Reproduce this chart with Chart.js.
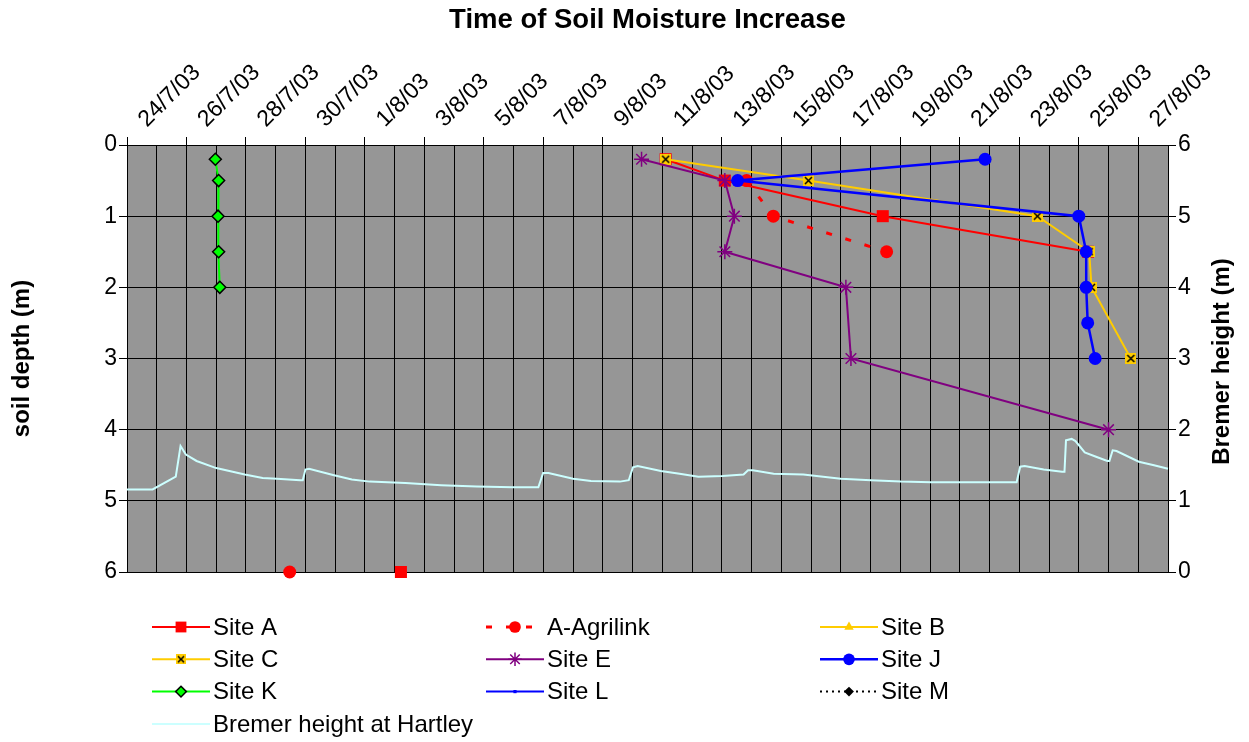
<!DOCTYPE html>
<html>
<head>
<meta charset="utf-8">
<script src="https://cdn.jsdelivr.net/npm/chart.js@4/dist/chart.umd.min.js"></script>
<style>
  body { margin: 0; background: #fff; }
  #wrap { width: 1249px; height: 742px; }
</style>
</head>
<body>
<div id="wrap"><canvas id="soilChart"></canvas></div>
<script>
// x values are days counted from 24/7/03, y values are depths in metres

const siteADays = [18.11, 20.10, 25.41, 32.31, null, 9.21];
const siteADepths = [0.2, 0.5, 1, 1.5, null, 6];

const agrilinkDays = [20.83, 21.73, 25.54, null, 5.47];
const agrilinkDepths = [0.5, 1, 1.5, null, 6];

const siteBDays = [];
const siteBDepths = [];

const siteCDays = [18.11, 22.91, 30.61, 32.35, 32.43, 33.75];
const siteCDepths = [0.2, 0.5, 1, 1.5, 2, 3];

const siteEDays = [17.30, 20.10, 20.42, 20.10, 24.17, 24.34, 33.0];
const siteEDepths = [0.2, 0.5, 1, 1.5, 2, 3, 4];

const siteJDays = [28.85, 20.53, 32.0, 32.25, 32.25, 32.30, 32.55];
const siteJDepths = [0.2, 0.5, 1, 1.5, 2, 2.5, 3];

const siteKDays = [2.97, 3.08, 3.06, 3.08, 3.12];
const siteKDepths = [0.2, 0.5, 1, 1.5, 2];

const siteLDays = [];
const siteLDepths = [];

const siteMDays = [];
const siteMDepths = [];

// river height at Hartley (m)
const bremerDays = [0, 0.86, 1.64, 1.80, 1.98, 2.34, 3.0, 3.96, 4.56, 5.04, 5.82, 5.91, 6.0, 6.12,
  6.96, 7.56, 8.16, 9.36, 10.56, 11.76, 12.97, 13.83, 13.99, 14.17, 15.0, 15.6, 16.57, 16.87,
  17.01, 17.17, 17.95, 18.58, 19.21, 20.02, 20.73, 20.88, 21.04, 21.74, 22.74, 24.0, 25.01,
  26.02, 27.03, 28.04, 29.91, 30.03, 30.18, 30.82, 31.44, 31.52, 31.57, 31.76, 31.89, 32.2,
  32.58, 32.96, 33.03, 33.14, 33.27, 34.02, 34.53, 35.0];
const bremerHeights = [1.16, 1.16, 1.34, 1.77, 1.65, 1.56, 1.46, 1.37, 1.32, 1.31, 1.29, 1.29, 1.44, 1.45,
  1.36, 1.30, 1.27, 1.25, 1.22, 1.20, 1.19, 1.19, 1.39, 1.39, 1.31, 1.28, 1.27, 1.29,
  1.47, 1.49, 1.42, 1.38, 1.34, 1.35, 1.37, 1.43, 1.43, 1.38, 1.37, 1.31, 1.29,
  1.27, 1.26, 1.26, 1.26, 1.48, 1.49, 1.44, 1.41, 1.41, 1.85, 1.87, 1.84, 1.68,
  1.62, 1.56, 1.56, 1.71, 1.70, 1.55, 1.50, 1.45];

const depthTicks = [0, 1, 2, 3, 4, 5, 6];
const dayCount = 35;


function dayLabel(d) {
  const dt = new Date(2003, 6, 24 + d);
  return dt.getDate() + '/' + (dt.getMonth() + 1) + '/03';
}

function pts(days, vals) {
  return days.map((d, i) => ({ x: d, y: vals[i] }));
}

// yellow box with a black cross, like the Excel marker
function crossBox(size) {
  const c = document.createElement('canvas');
  c.width = size;
  c.height = size;
  const g = c.getContext('2d');
  g.fillStyle = '#FFCC00';
  g.fillRect(0, 0, size, size);
  g.strokeStyle = '#000';
  g.lineWidth = 1.5;
  g.beginPath();
  g.moveTo(2, 2); g.lineTo(size - 2, size - 2);
  g.moveTo(size - 2, 2); g.lineTo(2, size - 2);
  g.stroke();
  return c;
}

Chart.defaults.font.family = 'Arial, "Liberation Sans", sans-serif';
Chart.defaults.color = '#000';

const FONT = 'Arial, "Liberation Sans", sans-serif';
const TITLE_SIZE = 27.5;
const TITLE_PAD = { top: 4, bottom: 8 };
const TITLE_H = TITLE_SIZE * 1.2 + TITLE_PAD.top + TITLE_PAD.bottom;

const datasets = [
  {
    label: 'Site A', data: pts(siteADays, siteADepths),
    borderColor: '#FF0000', backgroundColor: '#FF0000', borderWidth: 2,
    pointStyle: 'rect', pointRadius: 8.5, pointBorderWidth: 0
  },
  {
    label: 'A-Agrilink', data: pts(agrilinkDays, agrilinkDepths),
    borderColor: '#FF0000', backgroundColor: '#FF0000', borderWidth: 3, borderDash: [6, 14],
    pointStyle: 'circle', pointRadius: 6.5, pointBorderWidth: 0
  },
  {
    label: 'Site B', data: pts(siteBDays, siteBDepths),
    borderColor: '#FFCC00', backgroundColor: '#FFCC00', borderWidth: 2,
    pointStyle: 'triangle', pointRadius: 6, pointBorderWidth: 0
  },
  {
    label: 'Site C', data: pts(siteCDays, siteCDepths),
    borderColor: '#FFCC00', backgroundColor: '#FFCC00', borderWidth: 2,
    pointStyle: crossBox(11), legendStyle: crossBox(10), pointRadius: 6
  },
  {
    label: 'Site E', data: pts(siteEDays, siteEDepths),
    borderColor: '#800080', backgroundColor: '#800080', borderWidth: 2,
    pointStyle: 'star', pointRadius: 7.5, pointBorderWidth: 1.5
  },
  {
    label: 'Site J', data: pts(siteJDays, siteJDepths),
    borderColor: '#0000FF', backgroundColor: '#0000FF', borderWidth: 2.5,
    pointStyle: 'circle', pointRadius: 6.5, pointBorderWidth: 0
  },
  {
    label: 'Site K', data: pts(siteKDays, siteKDepths),
    borderColor: '#00FF00', backgroundColor: '#00FF00', borderWidth: 2,
    pointStyle: 'rectRot', pointRadius: 6, pointBorderColor: '#000', pointBorderWidth: 1.5
  },
  {
    label: 'Site L', data: pts(siteLDays, siteLDepths),
    borderColor: '#0000FF', backgroundColor: '#0000FF', borderWidth: 2,
    pointStyle: 'rect', pointRadius: 2.5, pointBorderWidth: 0
  },
  {
    label: 'Site M', data: pts(siteMDays, siteMDepths),
    borderColor: '#000000', backgroundColor: '#000000', borderWidth: 2, borderDash: [2, 4],
    pointStyle: 'rectRot', pointRadius: 5.5, pointBorderWidth: 0
  },
  {
    label: 'Bremer height at Hartley', data: pts(bremerDays, bremerHeights), yAxisID: 'y2',
    borderColor: '#CCFFFF', backgroundColor: '#CCFFFF', borderWidth: 2,
    pointRadius: 0
  }
];

// later series drawn on top, like excel; markers may sit over the frame
datasets.forEach((ds, i) => {
  ds.order = datasets.length - i;
  ds.clip = false;
});


const plotBackground = {
  id: 'plotBackground',
  beforeDraw(chart) {
    const a = chart.chartArea;
    chart.ctx.save();
    chart.ctx.fillStyle = '#969696';
    chart.ctx.fillRect(a.left, a.top, a.right - a.left, a.bottom - a.top);
    chart.ctx.restore();
  }
};

// right axis title reads bottom to top
const rightTitle = {
  id: 'rightTitle',
  afterDraw(chart) {
    const ctx = chart.ctx;
    const a = chart.chartArea;
    ctx.save();
    ctx.translate(1222, (a.top + a.bottom) / 2 + 3);
    ctx.rotate(-Math.PI / 2);
    ctx.font = 'bold 24px ' + FONT;
    ctx.fillStyle = '#000';
    ctx.textAlign = 'center';
    ctx.textBaseline = 'middle';
    ctx.fillText('Bremer height (m)', 0, 0);
    ctx.restore();
  }
};

// legend in three fixed columns under the plot
const gridLegend = {
  id: 'gridLegend',
  afterDraw(chart) {
    const ctx = chart.ctx;
    chart.data.datasets.forEach((ds, i) => {
      const col = i % 3;
      const row = Math.floor(i / 3);
      const x0 = 152 + col * 334;
      const y = 627 + row * 32.3;

      ctx.save();
      ctx.strokeStyle = ds.borderColor;
      ctx.lineWidth = ds.borderWidth;
      ctx.setLineDash(ds.borderDash || []);
      ctx.beginPath();
      ctx.moveTo(x0, y);
      ctx.lineTo(x0 + 58, y);
      ctx.stroke();
      ctx.setLineDash([]);

      if (ds.pointRadius > 0) {
        ctx.fillStyle = ds.backgroundColor;
        ctx.strokeStyle = ds.pointBorderColor || ds.borderColor;
        ctx.lineWidth = ds.pointBorderWidth || 0;
        Chart.helpers.drawPoint(ctx, {
          pointStyle: ds.legendStyle || ds.pointStyle,
          radius: ds.pointRadius * 0.9,
          borderWidth: ds.pointBorderWidth || 0,
          rotation: 0
        }, x0 + 29, y);
      }

      ctx.fillStyle = '#000';
      ctx.font = '24px ' + FONT;
      ctx.textAlign = 'left';
      ctx.textBaseline = 'middle';
      ctx.fillText(ds.label, x0 + 61, y + 1);
      ctx.restore();
    });
  }
};


const ctx = document.getElementById('soilChart');

new Chart(ctx, {
  type: 'line',
  data: { datasets: datasets },
  options: {
    responsive: true,
    maintainAspectRatio: false,
    animation: false,
    layout: { padding: { top: 0, left: 0, right: 0, bottom: 170 } },
    plugins: {
      legend: { display: false },
      tooltip: { enabled: false },
      title: {
        display: true,
        fullSize: false,
        text: 'Time of Soil Moisture Increase',
        font: { size: TITLE_SIZE, weight: 'bold' },
        color: '#000',
        padding: TITLE_PAD
      }
    },
    scales: {
      x: {
        type: 'linear',
        position: 'top',
        min: 0,
        max: dayCount,
        afterFit(scale) { scale.height = 145 - TITLE_H; },
        ticks: {
          stepSize: 1,
          autoSkip: false,
          includeBounds: false,
          minRotation: 45,
          maxRotation: 45,
          padding: 4,
          labelOffset: 35,
          font: { size: 23 },
          callback: v => (v % 2 === 0 && v < dayCount) ? dayLabel(v) : ''
        },
        grid: {
          color: '#000',
          lineWidth: 1,
          tickLength: 8,
          tickColor: c => (c.tick && c.tick.value % 2 === 0 && c.tick.value < dayCount) ? '#000' : 'rgba(0,0,0,0)'
        },
        border: { color: '#000', width: 1 }
      },
      y: {
        type: 'linear',
        position: 'left',
        reverse: true,
        min: 0,
        max: 6,
        afterFit(scale) { scale.width = 127; },
        afterBuildTicks(scale) { scale.ticks = depthTicks.map(v => ({ value: v })); },
        ticks: { font: { size: 23 }, padding: 2 },
        title: {
          display: true,
          text: 'soil depth (m)',
          font: { size: 24, weight: 'bold' },
          padding: { top: 8, bottom: 0 }
        },
        grid: { color: '#000', tickLength: 8 },
        border: { color: '#000' }
      },
      y2: {
        type: 'linear',
        position: 'right',
        min: 0,
        max: 6,
        afterFit(scale) { scale.width = 1249 - 1168; },
        afterBuildTicks(scale) { scale.ticks = depthTicks.map(v => ({ value: v })); },
        ticks: { font: { size: 23 }, padding: 2 },
        grid: { drawOnChartArea: false, color: '#000', tickLength: 8 },
        border: { color: '#000' }
      }
    }
  },
  plugins: [plotBackground, rightTitle, gridLegend]
});
</script>
</body>
</html>
